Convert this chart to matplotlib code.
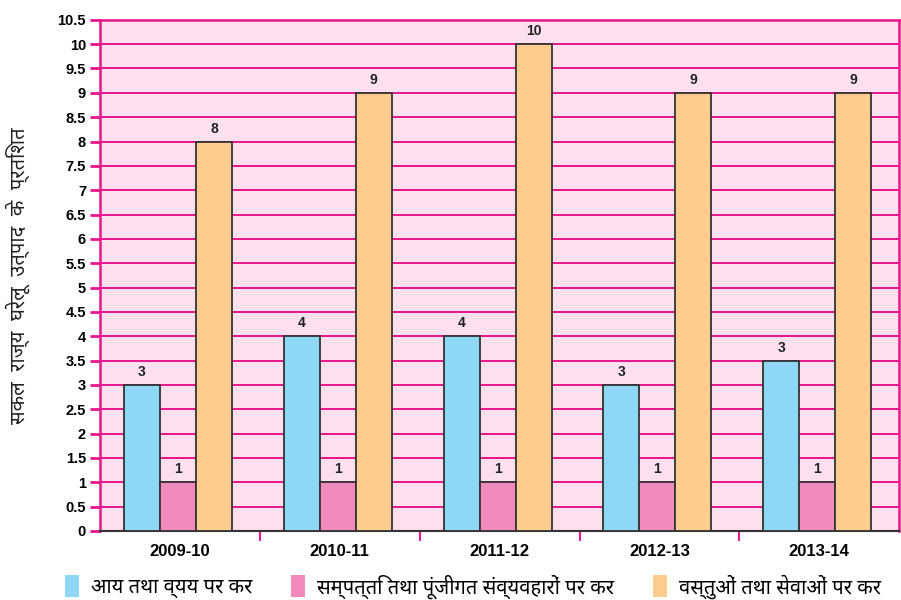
import numpy as np
import matplotlib
matplotlib.use('Agg')
import matplotlib.pyplot as plt
from matplotlib import font_manager
from matplotlib.patches import Patch

years = ['2009-10', '2010-11', '2011-12', '2012-13', '2013-14']
income_tax = [3.0, 4.0, 4.0, 3.0, 3.5]
income_lbl = ['3', '4', '4', '3', '3']
property_tax = [1.0, 1.0, 1.0, 1.0, 1.0]
property_lbl = ['1', '1', '1', '1', '1']
goods_tax = [8.0, 9.0, 10.0, 9.0, 9.0]
goods_lbl = ['8', '9', '10', '9', '9']
series_names = ['आय तथा व्यय पर कर',
                'सम्पत्ति तथा पूंजीगत संव्यवहारों पर कर',
                'वस्तुओं तथा सेवाओं पर कर']
ylabel = 'सकल  राज्य  घरेलू  उत्पाद  के  प्रतिशत'

installed = {f.name for f in font_manager.fontManager.ttflist}
num_fonts = [f for f in ['Liberation Sans Narrow', 'Liberation Sans', 'DejaVu Sans'] if f in installed]
hindi_fonts = [f for f in ['Noto Sans Devanagari', 'Lohit Devanagari', 'Mangal',
                           'FreeSans', 'Noto Sans', 'DejaVu Sans'] if f in installed]

blue = '#8ed8f6'
pink = '#f08bbb'
orange = '#fdcc8e'
magenta = '#e8168c'

fig = plt.figure(figsize=(9.01, 6.0), dpi=100)
ax = fig.add_axes([0.111, 0.115, 0.887, 0.852])
ax.set_facecolor('#fce0ee')

x = np.arange(len(years))
w = 0.225
off = -0.0125
b1 = ax.bar(x + off - w, income_tax, w, color=blue, edgecolor='#333333', linewidth=1.3, zorder=3)
b2 = ax.bar(x + off, property_tax, w, color=pink, edgecolor='#333333', linewidth=1.3, zorder=3)
b3 = ax.bar(x + off + w, goods_tax, w, color=orange, edgecolor='#333333', linewidth=1.3, zorder=3)
for bars, labels in [(b1, income_lbl), (b2, property_lbl), (b3, goods_lbl)]:
    for rect, lab in zip(bars, labels):
        ax.text(rect.get_x() + rect.get_width() / 2, rect.get_height() + 0.12, lab,
                ha='center', va='bottom', fontsize=10, fontweight='bold',
                family=num_fonts, color='#222222', zorder=4)

ax.set_xlim(-0.5, len(years) - 0.5)
ax.set_ylim(0, 10.5)
ax.set_yticks(np.arange(0, 10.51, 0.5))
ax.set_yticklabels([('%g' % v) for v in np.arange(0, 10.51, 0.5)],
                   fontsize=10.5, fontweight='bold', family=num_fonts)
ax.yaxis.grid(True, color=magenta, linewidth=1.4, zorder=1)
ax.set_axisbelow(True)

ax.set_xticks(x)
ax.set_xticklabels(years, fontsize=12, fontweight='bold', family=num_fonts)
ax.set_xticks(np.arange(0.5, len(years) - 1, 1), minor=True)
ax.tick_params(axis='x', which='major', length=0, pad=9)
ax.tick_params(axis='x', which='minor', length=7, color=magenta, width=1.5)
ax.tick_params(axis='y', length=7, color=magenta, width=2, pad=3)

for s in ['left', 'top', 'right']:
    ax.spines[s].set_color(magenta)
    ax.spines[s].set_linewidth(1.8)
ax.spines['bottom'].set_color('#333333')
ax.spines['bottom'].set_linewidth(1.5)

ax.set_ylabel(ylabel, fontsize=14.5, family=hindi_fonts, color='#222222', labelpad=20)

handles = [Patch(facecolor=c, edgecolor='none') for c in (blue, pink, orange)]
fig.legend(handles, series_names, loc='lower center', bbox_to_anchor=(0.525, -0.028), ncol=3,
           frameon=False, prop={'family': hindi_fonts, 'size': 14.5},
           handlelength=0.7, handleheight=1.3, handletextpad=0.6, columnspacing=1.9)

fig.savefig('out.png', dpi=100)
